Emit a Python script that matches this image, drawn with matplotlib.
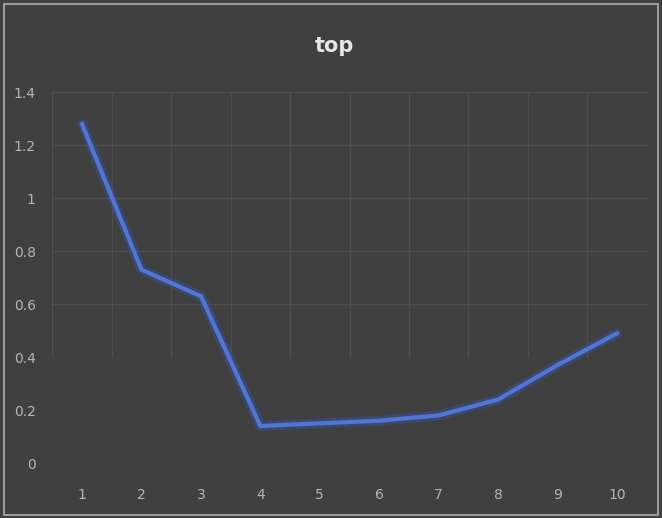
import matplotlib.pyplot as plt
from matplotlib import font_manager
from matplotlib.patches import Rectangle

# values for the "top" series
x_labels = ["1", "2", "3", "4", "5", "6", "7", "8", "9", "10"]
values = [1.28, 0.73, 0.63, 0.14, 0.15, 0.16, 0.18, 0.24, 0.37, 0.49]
y_ticks = [0, 0.2, 0.4, 0.6, 0.8, 1.0, 1.2, 1.4]
y_tick_labels = ["0", "0.2", "0.4", "0.6", "0.8", "1", "1.2", "1.4"]

bg = "#404040"
grid_col = "#4e4e4e"
text_col = "#b4b4b4"

names = {f.name for f in font_manager.fontManager.ttflist}
tick_font = "Liberation Sans Narrow" if "Liberation Sans Narrow" in names else "DejaVu Sans"

fig = plt.figure(figsize=(6.62, 5.18), dpi=100, facecolor=bg)
ax = fig.add_axes([0.079, 0.106, 0.898, 0.716], facecolor=bg)

xs = list(range(len(values)))
# soft glow under the line
ax.plot(xs, values, color="#3656a8", linewidth=7, alpha=0.4, solid_capstyle="round")
ax.plot(xs, values, color="#4f76d6", linewidth=3.0)

ax.set_xlim(-0.5, len(values) - 0.5)
ax.set_ylim(0, 1.4)

# gridlines only show across the upper part of the plot
for y in [0.6, 0.8, 1.0, 1.2, 1.4]:
    ax.axhline(y, color=grid_col, linewidth=1, zorder=0)
for b in [i - 0.5 for i in range(len(values) + 1)]:
    ax.plot([b, b], [0.4, 1.4], color=grid_col, linewidth=1, zorder=0)

ax.set_xticks(xs)
ax.set_xticklabels(x_labels, family=tick_font)
ax.set_yticks(y_ticks)
ax.set_yticklabels(y_tick_labels, family=tick_font)
ax.tick_params(colors=text_col, labelsize=10, length=0, pad=18)
ax.tick_params(axis="y", pad=12)
for s in ax.spines.values():
    s.set_visible(False)

fig.text(0.505, 0.912, "top", ha="center", va="center", color="#e6e6e6",
         fontsize=15, fontweight="bold")

# light frame around the chart area
fig.patches.append(Rectangle((0.006, 0.006), 0.988, 0.986, transform=fig.transFigure,
                             fill=False, edgecolor="#9a9a9a", linewidth=1.5))

fig.savefig("out.png", dpi=100, facecolor=bg)
